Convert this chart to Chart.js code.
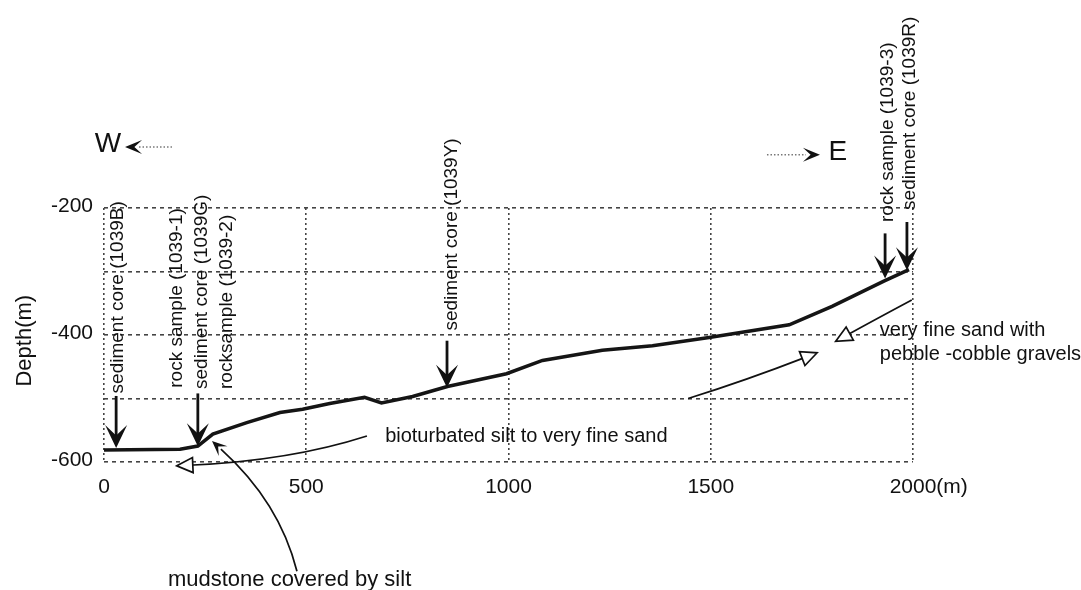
<!DOCTYPE html>
<html>
<head>
<meta charset="utf-8">
<script src="https://cdn.jsdelivr.net/npm/chart.js@4.4.0/dist/chart.umd.min.js"></script>
<style>
    body { margin: 0; background: #fff; }
    canvas { display: block; }
</style>
</head>
<body>
<canvas id="profileChart" width="1081" height="590"></canvas>
<script>
// Sea floor profile: distance along line (m) and depth (m)
const distance = [0, 188, 232, 269, 353, 435, 491, 558, 644, 686, 763, 849, 995, 1084, 1232, 1356, 1496, 1694, 1800, 1928, 1990];
const depth = [-581, -580, -575, -556, -538, -522, -517, -508, -498, -507, -497, -481, -461, -440, -424, -417, -404, -384, -355, -315, -297];

const xTickValues = [0, 500, 1000, 1500, 2000];
const xTickLabels = ['0', '500', '1000', '1500', '2000(m)'];
const yTickValues = [-200, -400, -600];
const yTickLabels = ['-200', '-400', '-600'];

// Sampling sites (vertical labels: centre distance, depth where text starts)
const sampleNames = ['sediment core (1039B)', 'rock sample (1039-1)', 'sediment core (1039G)', 'rocksample (1039-2)',
    'sediment core (1039Y)', 'rock sample (1039-3)', 'sediment core (1039R)'];
const sampleTextX = [35, 180, 242, 304, 860, 1938, 1992];
const sampleTextBase = [-492, -483, -485, -485, -393, -222, -203];

// Down arrows onto the sea floor
const arrowX = [30, 232, 848, 1931, 1985];
const arrowFrom = [-496, -492, -409, -240, -222];
const arrowTo = [-578, -575, -483, -311, -298];

// Facies notes
const noteTexts = ['bioturbated silt to very fine sand', 'very fine sand with', 'pebble -cobble gravels', 'mudstone covered by silt'];
const noteX = [695, 1918, 1918, 158];
const noteY = [-560, -393, -431, -785];
const noteSize = [20, 20, 20, 22];

// Curved pointer arrows (start, control, tip) in data units
const curveFromX = [650, 1444, 1997, 477];
const curveFromY = [-559, -500, -345, -772];
const curveCtrlX = [460, 1585, 1903, 434];
const curveCtrlY = [-598, -472, -377, -663];
const curveToX = [180, 1763, 1809, 267];
const curveToY = [-606, -428, -410, -567];
const curveHead = ['open', 'open', 'open', 'solid'];

const ink = '#111';
const font = '"Liberation Sans", Arial, Helvetica, sans-serif';

function harpoon(ctx, x, y, ang, len, half) {
    // filled arrow head with a notched back, tip at (x, y)
    const c = Math.cos(ang), s = Math.sin(ang);
    const pt = (a, b) => [x - a * c - b * s, y - a * s + b * c];
    const p1 = pt(len, half), p2 = pt(len * 0.55, 0), p3 = pt(len, -half);
    ctx.beginPath();
    ctx.moveTo(x, y);
    ctx.lineTo(p1[0], p1[1]);
    ctx.lineTo(p2[0], p2[1]);
    ctx.lineTo(p3[0], p3[1]);
    ctx.closePath();
    ctx.fill();
}

function openHead(ctx, x, y, ang, len, half) {
    const c = Math.cos(ang), s = Math.sin(ang);
    const pt = (a, b) => [x - a * c - b * s, y - a * s + b * c];
    const p1 = pt(len, half), p3 = pt(len, -half);
    ctx.beginPath();
    ctx.moveTo(x, y);
    ctx.lineTo(p1[0], p1[1]);
    ctx.lineTo(p3[0], p3[1]);
    ctx.closePath();
    ctx.fillStyle = '#fff';
    ctx.fill();
    ctx.stroke();
    ctx.fillStyle = ink;
}

const profileNotes = {
    id: 'profileNotes',
    afterDraw(chart) {
        const ctx = chart.ctx;
        const xs = chart.scales.x, ys = chart.scales.y;
        const px = v => xs.getPixelForValue(v);
        const py = v => ys.getPixelForValue(v);
        ctx.save();
        ctx.fillStyle = ink;
        ctx.strokeStyle = ink;

        // tick labels
        ctx.font = `21px ${font}`;
        ctx.textBaseline = 'middle';
        xTickValues.forEach((v, i) => {
            const core = xTickLabels[i].replace('(m)', '');
            const w = ctx.measureText(core).width;
            ctx.textAlign = 'left';
            ctx.fillText(xTickLabels[i], px(v) - w / 2, ys.bottom + 25);
        });
        ctx.textAlign = 'right';
        yTickValues.forEach((v, i) => {
            ctx.fillText(yTickLabels[i], xs.left - 11, py(v) - 2);
        });

        // axis title
        ctx.save();
        ctx.translate(xs.left - 79, py(-409));
        ctx.rotate(-Math.PI / 2);
        ctx.textAlign = 'center';
        ctx.font = `22px ${font}`;
        ctx.fillText('Depth(m)', 0, 0);
        ctx.restore();

        // W / E direction
        ctx.font = `28px ${font}`;
        ctx.textAlign = 'center';
        ctx.fillText('W', px(10), py(-100));
        ctx.fillText('E', px(1814), py(-113));
        ctx.save();
        ctx.lineWidth = 1.5;
        ctx.strokeStyle = '#777';
        ctx.setLineDash([1.5, 2]);
        ctx.beginPath();
        ctx.moveTo(px(52) + 14, py(-104));
        ctx.lineTo(px(168), py(-104));
        ctx.moveTo(px(1639), py(-116));
        ctx.lineTo(px(1770) - 14, py(-116));
        ctx.stroke();
        ctx.restore();
        harpoon(ctx, px(52), py(-104), Math.PI, 17, 7);
        harpoon(ctx, px(1770), py(-116), 0, 17, 7);

        // sample labels
        ctx.font = `19px ${font}`;
        ctx.textAlign = 'left';
        ctx.textBaseline = 'middle';
        sampleNames.forEach((name, i) => {
            ctx.save();
            ctx.translate(px(sampleTextX[i]), py(sampleTextBase[i]));
            ctx.rotate(-Math.PI / 2);
            ctx.fillText(name, 0, 0);
            ctx.restore();
        });

        // down arrows
        ctx.lineWidth = 2.8;
        arrowX.forEach((x, i) => {
            const tip = py(arrowTo[i]);
            ctx.beginPath();
            ctx.moveTo(px(x), py(arrowFrom[i]));
            ctx.lineTo(px(x), tip - 10);
            ctx.stroke();
            harpoon(ctx, px(x), tip, Math.PI / 2, 23, 11);
        });

        // facies notes
        ctx.textAlign = 'left';
        noteTexts.forEach((t, i) => {
            ctx.font = `${noteSize[i]}px ${font}`;
            ctx.fillText(t, px(noteX[i]), py(noteY[i]));
        });

        // curved pointers
        ctx.lineWidth = 1.7;
        curveFromX.forEach((x0, i) => {
            const sx = px(x0), sy = py(curveFromY[i]);
            const cx = px(curveCtrlX[i]), cy = py(curveCtrlY[i]);
            const ex = px(curveToX[i]), ey = py(curveToY[i]);
            const ang = Math.atan2(ey - cy, ex - cx);
            ctx.beginPath();
            ctx.moveTo(sx, sy);
            ctx.quadraticCurveTo(cx, cy, ex - 12 * Math.cos(ang), ey - 12 * Math.sin(ang));
            ctx.stroke();
            if (curveHead[i] === 'open') {
                openHead(ctx, ex, ey, ang, 16, 7.5);
            } else {
                harpoon(ctx, ex, ey, ang, 15, 6.5);
            }
        });

        ctx.restore();
    }
};

const ctx = document.getElementById('profileChart').getContext('2d');
new Chart(ctx, {
    type: 'line',
    data: {
        datasets: [{
            label: 'profile',
            data: distance.map((d, i) => ({ x: d, y: depth[i] })),
            borderColor: '#151515',
            borderWidth: 3.6,
            pointRadius: 0,
            tension: 0,
            fill: false
        }]
    },
    options: {
        responsive: false,
        animation: false,
        devicePixelRatio: 1,
        layout: { padding: { left: 104, right: 168, top: 208, bottom: 128 } },
        plugins: { legend: { display: false }, tooltip: { enabled: false } },
        scales: {
            x: {
                type: 'linear', min: 0, max: 2000,
                ticks: { display: false, stepSize: 500 },
                grid: { color: '#444', lineWidth: 1.6, drawTicks: false },
                border: { display: false, dash: [2, 3] }
            },
            y: {
                type: 'linear', min: -600, max: -200,
                ticks: { display: false, stepSize: 100 },
                grid: { color: '#444', lineWidth: 1.6, drawTicks: false },
                border: { display: false, dash: [4, 4] }
            }
        }
    },
    plugins: [profileNotes]
});
</script>
</body>
</html>
